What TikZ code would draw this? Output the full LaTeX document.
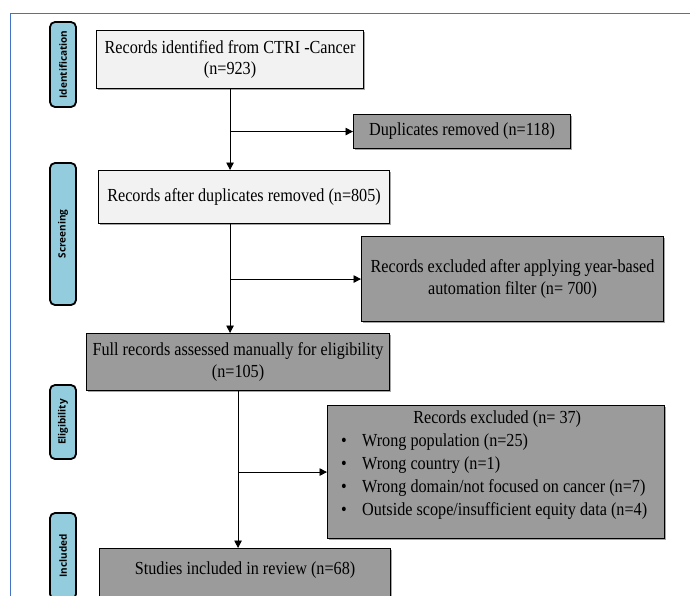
\documentclass[tikz,border=0pt]{standalone}
\usepackage{fontspec}
\setmainfont{Liberation Serif}[FakeStretch=0.88]
\newfontfamily\labelfont{Open Sans}
\usetikzlibrary{arrows.meta,shadows}
\definecolor{frameblue}{HTML}{4472C4}
\definecolor{phasefill}{HTML}{93CDDD}
\definecolor{lightfill}{HTML}{F2F2F2}
\definecolor{darkfill}{HTML}{9B9B9B}
\newcommand{\bulitem}{\makebox[21pt][l]{\textbullet}}
\begin{document}
\begin{tikzpicture}[x=1pt,y=-1pt,
  every node/.style={font=\fontsize{18.4}{21.5}\selectfont},
  box/.style={draw=black, line width=1.1pt, inner sep=2pt, align=center, anchor=north west,
    drop shadow={shadow xshift=1.3pt, shadow yshift=-1.3pt, fill=black, opacity=0.35}},
  lightbox/.style={box, fill=lightfill},
  graybox/.style={box, fill=darkfill},
  phase/.style={draw=black, line width=1.8pt, fill=phasefill, rounded corners=5pt,
    minimum width=26pt, inner sep=0pt, font=\labelfont\bfseries\fontsize{10}{12}\selectfont},
  conn/.style={line width=0.9pt, -{Triangle[length=7.5pt,width=7.5pt]}},
]
\useasboundingbox (0,0) rectangle (690,595);
\clip (0,0) rectangle (690,595);
\fill[white] (0,0) rectangle (690,595);
\draw[frameblue, line width=1pt] (700,13) -- (10,13) -- (10,605);

% phase labels
\node[phase, minimum height=85pt] (ph1) at (63,64.5) {\rotatebox{90}{Identification}};
\node[phase, minimum height=142pt] (ph2) at (63,234) {\rotatebox{90}{Screening}};
\node[phase, minimum height=74pt] (ph3) at (63,422) {\rotatebox{90}{Eligibility}};
\node[phase, minimum height=86pt] (ph4) at (63,556) {\rotatebox{90}{Included}};

% boxes
\node[lightbox, minimum width=267pt, minimum height=58pt] (b1) at (96,30)
  {Records identified from CTRI -Cancer\\(n=923)};
\node[graybox, minimum width=217pt, minimum height=34pt] (dup) at (353,114)
  {Duplicates removed (n=118)};
\node[lightbox, minimum width=291pt, minimum height=53pt] (b2) at (98,170)
  {Records after duplicates removed (n=805)};
\node[graybox, minimum width=302pt, minimum height=85pt] (year) at (361,236)
  {Records excluded after applying year-based\\automation filter (n= 700)};
\node[graybox, minimum width=303pt, minimum height=57pt] (b3) at (86,333)
  {Full records assessed manually for eligibility\\(n=105)};
\node[graybox, minimum width=337pt, minimum height=133pt] (excl) at (327,405) {};
\node[anchor=north west, inner sep=0pt] (exclt) at (341,411)
  {\parbox[t]{312pt}{\fontsize{18.4}{22.8}\selectfont
    \centering Records excluded (n= 37)\par\raggedright
    \bulitem Wrong population (n=25)\\
    \bulitem Wrong country (n=1)\\
    \bulitem Wrong domain/not focused on cancer (n=7)\\
    \bulitem Outside scope/insufficient equity data (n=4)}};
\node[graybox, minimum width=291pt, minimum height=60pt] (b4) at (99,548) {};
\node (b4t) at ([yshift=-22pt]b4.north) {Studies included in review (n=68)};

% connectors
\draw[conn] (b1.south) -- (b1.south |- b2.north);
\draw[conn] (b1.south |- dup.west) -- (dup.west);
\draw[conn] (b1.south |- b2.south) -- (b1.south |- b3.north);
\draw[conn] (b1.south |- year.west) -- (year.west);
\draw[conn] (b3.south) -- (b3.south |- b4.north);
\draw[conn] (b3.south |- excl.west) -- (excl.west);
\end{tikzpicture}
\end{document}
